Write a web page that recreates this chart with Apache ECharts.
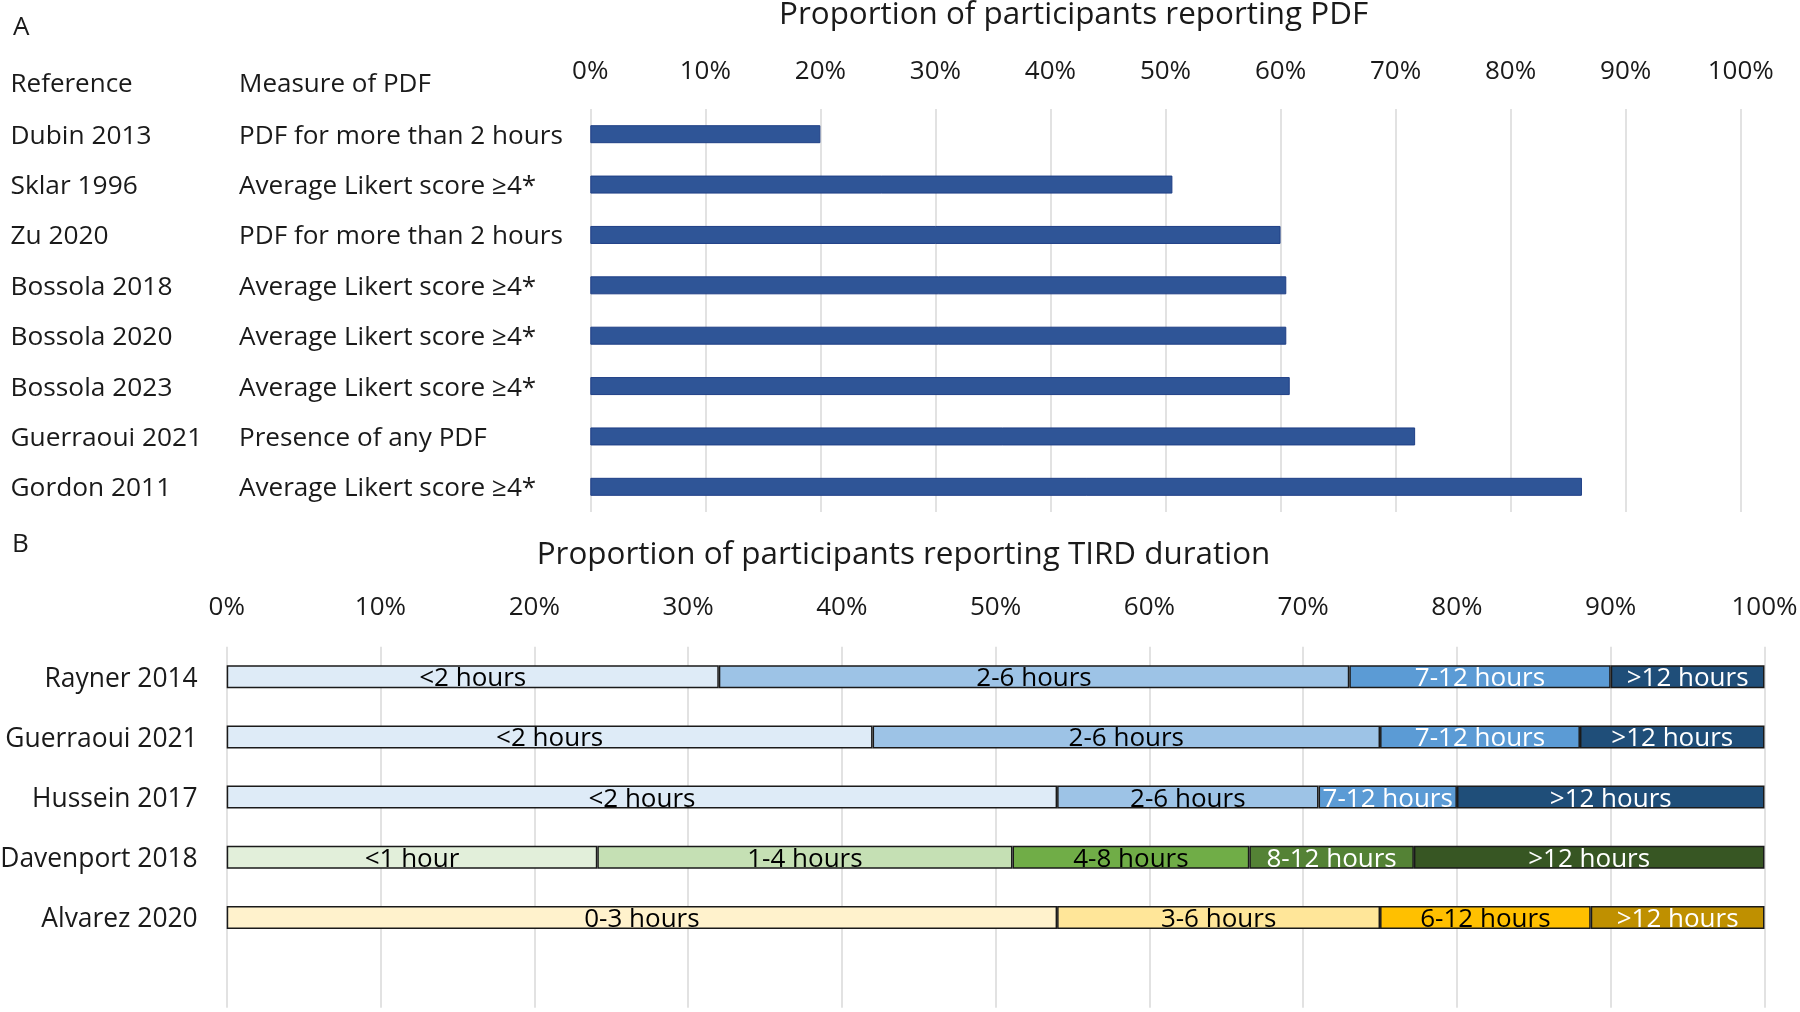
<!DOCTYPE html>
<html>
<head>
<meta charset="utf-8">
<script src="https://cdn.jsdelivr.net/npm/echarts@6/dist/echarts.min.js"></script>
<style>html,body{margin:0;padding:0;background:#fff}#chart{width:1800px;height:1012px}</style>
</head>
<body>
<div id="chart"></div>
<script>
// ---------- Panel A data ----------
const refsA = ['Dubin 2013','Sklar 1996','Zu 2020','Bossola 2018','Bossola 2020','Bossola 2023','Guerraoui 2021','Gordon 2011'];
const measuresA = ['PDF for more than 2 hours','Average Likert score \u22654*','PDF for more than 2 hours','Average Likert score \u22654*','Average Likert score \u22654*','Average Likert score \u22654*','Presence of any PDF','Average Likert score \u22654*'];
const valuesA = [20.0, 50.6, 60.0, 60.5, 60.5, 60.8, 71.7, 86.2];

// ---------- Panel B data ----------
const studiesB = ['Rayner 2014','Guerraoui 2021','Hussein 2017','Davenport 2018','Alvarez 2020'];
const segLabelsB = [
  ['<2 hours','2-6 hours','7-12 hours','>12 hours'],
  ['<2 hours','2-6 hours','7-12 hours','>12 hours'],
  ['<2 hours','2-6 hours','7-12 hours','>12 hours'],
  ['<1 hour','1-4 hours','4-8 hours','8-12 hours','>12 hours'],
  ['0-3 hours','3-6 hours','6-12 hours','>12 hours']
];
const segValuesB = [
  [32, 41, 17, 10],
  [42, 33, 13, 12],
  [54, 17, 9, 20],
  [24.1, 27, 15.4, 10.7, 22.8],
  [54, 21, 13.7, 11.3]
];

// palettes
const bluePal = ['#DEEBF7','#9DC3E6','#5B9BD5','#1F4E79'];
const blueTxt = ['#000','#000','#fff','#fff'];
const greenPal = ['#E2EFDA','#C5E0B4','#70AD47','#548235','#375623'];
const greenTxt = ['#000','#000','#000','#fff','#fff'];
const yellowPal = ['#FFF2CC','#FFE699','#FFC000','#BF9000'];
const yellowTxt = ['#000','#000','#000','#fff'];
const palB = [bluePal, bluePal, bluePal, greenPal, yellowPal];
const txtB = [blueTxt, blueTxt, blueTxt, greenTxt, yellowTxt];

const FONT = 'Open Sans';
const chart = echarts.init(document.getElementById('chart'));

const maxSegs = Math.max(...segValuesB.map(r => r.length));
const seriesB = [];
for (let s = 0; s < maxSegs; s++) {
  seriesB.push({
    type: 'bar', xAxisIndex: 1, yAxisIndex: 1, stack: 'b', barWidth: 23,
    data: studiesB.map((st, i) => {
      const v = segValuesB[i][s];
      if (v === undefined) return null;
      return {
        value: v,
        itemStyle: { color: palB[i][s], borderColor: '#1a1a1a', borderWidth: 1.5 },
        label: { show: true, position: 'inside', offset: [0, 2], formatter: segLabelsB[i][s],
                 color: txtB[i][s], fontFamily: FONT, fontSize: 26 }
      };
    }).concat([null]),
    animation: false
  });
}

const option = {
  animation: false,
  textStyle: { fontFamily: FONT },
  grid: [
    { left: 590.3, right: 59.3, top: 109, height: 403, containLabel: false, outerBoundsMode: 'none' },
    { left: 226.7, right: 35.5, top: 646.7, height: 361, containLabel: false, outerBoundsMode: 'none' }
  ],
  xAxis: [
    { type: 'value', gridIndex: 0, position: 'top', min: 0, max: 100, interval: 10,
      axisLine: { show: false }, axisTick: { show: false },
      splitLine: { show: true, lineStyle: { color: '#D9D9D9', width: 1.5 } },
      axisLabel: { formatter: '{value}%', fontFamily: FONT, fontSize: 26, color: '#1a1a1a', margin: 24.7 } },
    { type: 'value', gridIndex: 1, position: 'top', min: 0, max: 100, interval: 10,
      axisLine: { show: false }, axisTick: { show: false },
      splitLine: { show: true, lineStyle: { color: '#D9D9D9', width: 1.5 } },
      axisLabel: { formatter: '{value}%', fontFamily: FONT, fontSize: 26, color: '#1a1a1a', margin: 26 } }
  ],
  yAxis: [
    { type: 'category', gridIndex: 0, inverse: true, data: refsA,
      axisLine: { show: false }, axisTick: { show: false },
      axisLabel: { align: 'left', margin: 579.8, padding: [4, 0, 0, 0], fontFamily: FONT, fontSize: 26, color: '#1a1a1a',
        formatter: (v, i) => '{a|' + v + '}{b|' + measuresA[i] + '}',
        rich: { a: { width: 228.5, fontFamily: FONT, fontSize: 26.3, color: '#1a1a1a' },
                b: { fontFamily: FONT, fontSize: 26.1, color: '#1a1a1a' } } } },
    { type: 'category', gridIndex: 1, inverse: true, data: studiesB.concat(['']),
      axisLine: { show: false }, axisTick: { show: false },
      axisLabel: { margin: 29, fontFamily: FONT, fontSize: 26.4, color: '#1a1a1a',
        formatter: v => '{c|' + v + '}',
        rich: { c: { fontFamily: FONT, fontSize: 26.4, color: '#1a1a1a', padding: [5, 0, 0, 0] } } } }
  ],
  series: [
    { type: 'bar', xAxisIndex: 0, yAxisIndex: 0, data: valuesA, barWidth: 18,
      itemStyle: { color: '#2F5597', borderColor: '#1F3F86', borderWidth: 1 } }
  ].concat(seriesB),
  graphic: [
    { type: 'text', x: 13, y: 27.5, style: { text: 'A', font: '26px "Open Sans"', fill: '#1a1a1a', verticalAlign: 'middle' } },
    { type: 'text', x: 1073.6, y: 15.5, style: { text: 'Proportion of participants reporting PDF', font: '31.4px "Open Sans"', fill: '#1a1a1a', align: 'center', verticalAlign: 'middle' } },
    { type: 'text', x: 10.5, y: 84.3, style: { text: 'Reference', font: '26px "Open Sans"', fill: '#1a1a1a', verticalAlign: 'middle' } },
    { type: 'text', x: 239, y: 84.3, style: { text: 'Measure of PDF', font: '26px "Open Sans"', fill: '#1a1a1a', verticalAlign: 'middle' } },
    { type: 'text', x: 12, y: 545, style: { text: 'B', font: '26px "Open Sans"', fill: '#1a1a1a', verticalAlign: 'middle' } },
    { type: 'text', x: 903.5, y: 555.5, style: { text: 'Proportion of participants reporting TIRD duration', font: '31.4px "Open Sans"', fill: '#1a1a1a', align: 'center', verticalAlign: 'middle' } }
  ]
};
chart.setOption(option);
</script>
</body>
</html>
